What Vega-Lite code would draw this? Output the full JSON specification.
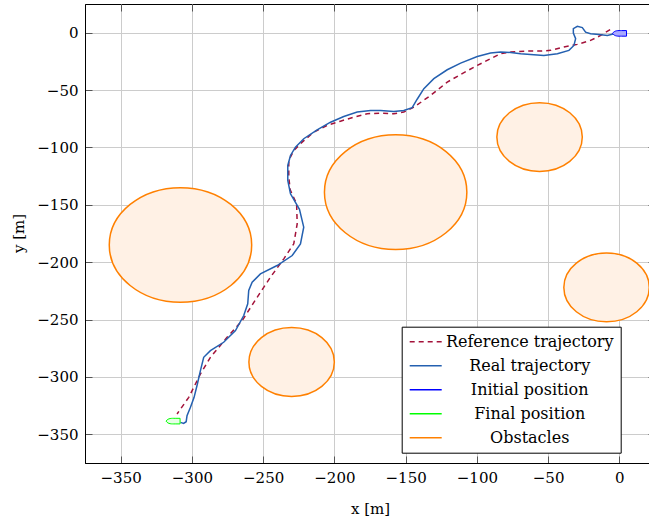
{
  "$schema": "https://vega.github.io/schema/vega-lite/v6.json",
  "width": 570,
  "height": 459,
  "autosize": {"type": "none"},
  "padding": {"left": 85, "top": 4, "right": 0, "bottom": 60},
  "background": "white",
  "config": {
    "font": "DejaVu Serif",
    "view": {"stroke": "black", "strokeWidth": 1},
    "axis": {
      "labelFont": "DejaVu Serif", "labelFontSize": 15, "labelColor": "black",
      "titleFont": "DejaVu Serif", "titleFontSize": 15, "titleFontWeight": "normal", "titleColor": "black",
      "gridColor": "#cccccc", "gridOpacity": 1, "gridWidth": 1,
      "domainColor": "black", "tickColor": "#555555", "tickSize": -7, "labelPadding": 14
    }
  },
  "datasets": {
    "ref": [
      {"series": "Reference trajectory", "i": 1, "x": -6.5, "y": 2.7},
      {"series": "Reference trajectory", "i": 2, "x": -13.1, "y": -2.4},
      {"series": "Reference trajectory", "i": 3, "x": -20.2, "y": -6.7},
      {"series": "Reference trajectory", "i": 4, "x": -29.5, "y": -10.2},
      {"series": "Reference trajectory", "i": 5, "x": -38.9, "y": -12.5},
      {"series": "Reference trajectory", "i": 6, "x": -48.2, "y": -15.4},
      {"series": "Reference trajectory", "i": 7, "x": -55.3, "y": -16},
      {"series": "Reference trajectory", "i": 8, "x": -64.6, "y": -16},
      {"series": "Reference trajectory", "i": 9, "x": -76.3, "y": -16.9},
      {"series": "Reference trajectory", "i": 10, "x": -83.4, "y": -18.3},
      {"series": "Reference trajectory", "i": 11, "x": -90.4, "y": -22.7},
      {"series": "Reference trajectory", "i": 12, "x": -99.7, "y": -28.5},
      {"series": "Reference trajectory", "i": 13, "x": -111.4, "y": -36.4},
      {"series": "Reference trajectory", "i": 14, "x": -120.8, "y": -43.1},
      {"series": "Reference trajectory", "i": 15, "x": -132.5, "y": -54.7},
      {"series": "Reference trajectory", "i": 16, "x": -144.2, "y": -64.9},
      {"series": "Reference trajectory", "i": 17, "x": -151.3, "y": -69.2},
      {"series": "Reference trajectory", "i": 18, "x": -158.3, "y": -70.6},
      {"series": "Reference trajectory", "i": 19, "x": -167.6, "y": -70.1},
      {"series": "Reference trajectory", "i": 20, "x": -177, "y": -70.6},
      {"series": "Reference trajectory", "i": 21, "x": -186.4, "y": -73.6},
      {"series": "Reference trajectory", "i": 22, "x": -195.7, "y": -77.1},
      {"series": "Reference trajectory", "i": 23, "x": -205.1, "y": -80.8},
      {"series": "Reference trajectory", "i": 24, "x": -214.5, "y": -86.7},
      {"series": "Reference trajectory", "i": 25, "x": -222.6, "y": -95.4},
      {"series": "Reference trajectory", "i": 26, "x": -228.5, "y": -102.6},
      {"series": "Reference trajectory", "i": 27, "x": -232, "y": -111.4},
      {"series": "Reference trajectory", "i": 28, "x": -232, "y": -125.9},
      {"series": "Reference trajectory", "i": 29, "x": -231, "y": -137},
      {"series": "Reference trajectory", "i": 30, "x": -226.5, "y": -149.1},
      {"series": "Reference trajectory", "i": 31, "x": -226.1, "y": -166.6},
      {"series": "Reference trajectory", "i": 32, "x": -228.5, "y": -184},
      {"series": "Reference trajectory", "i": 33, "x": -235.5, "y": -197.1},
      {"series": "Reference trajectory", "i": 34, "x": -244.9, "y": -213.1},
      {"series": "Reference trajectory", "i": 35, "x": -254.2, "y": -230.6},
      {"series": "Reference trajectory", "i": 36, "x": -264.7, "y": -250.9},
      {"series": "Reference trajectory", "i": 37, "x": -275.3, "y": -265.5},
      {"series": "Reference trajectory", "i": 38, "x": -287, "y": -282.9},
      {"series": "Reference trajectory", "i": 39, "x": -294, "y": -297.4},
      {"series": "Reference trajectory", "i": 40, "x": -302.2, "y": -317.8},
      {"series": "Reference trajectory", "i": 41, "x": -310.4, "y": -332.3}
    ],
    "real": [
      {"series": "Real trajectory", "i": 1, "x": -1, "y": 0},
      {"series": "Real trajectory", "i": 2, "x": -8.4, "y": -2.4},
      {"series": "Real trajectory", "i": 3, "x": -14.3, "y": -1.5},
      {"series": "Real trajectory", "i": 4, "x": -20.2, "y": -0.9},
      {"series": "Real trajectory", "i": 5, "x": -23.7, "y": 0.5},
      {"series": "Real trajectory", "i": 6, "x": -26, "y": 4.4},
      {"series": "Real trajectory", "i": 7, "x": -29.5, "y": 5.5},
      {"series": "Real trajectory", "i": 8, "x": -32.3, "y": 3.5},
      {"series": "Real trajectory", "i": 9, "x": -32.3, "y": -0.3},
      {"series": "Real trajectory", "i": 10, "x": -30.7, "y": -5.2},
      {"series": "Real trajectory", "i": 11, "x": -31.9, "y": -11.1},
      {"series": "Real trajectory", "i": 12, "x": -35.4, "y": -15.4},
      {"series": "Real trajectory", "i": 13, "x": -43.5, "y": -18.3},
      {"series": "Real trajectory", "i": 14, "x": -53, "y": -19.8},
      {"series": "Real trajectory", "i": 15, "x": -60, "y": -19.2},
      {"series": "Real trajectory", "i": 16, "x": -69.3, "y": -18.3},
      {"series": "Real trajectory", "i": 17, "x": -76.3, "y": -17.2},
      {"series": "Real trajectory", "i": 18, "x": -83.4, "y": -16.9},
      {"series": "Real trajectory", "i": 19, "x": -90.4, "y": -17.8},
      {"series": "Real trajectory", "i": 20, "x": -99.7, "y": -20.7},
      {"series": "Real trajectory", "i": 21, "x": -111.4, "y": -26.5},
      {"series": "Real trajectory", "i": 22, "x": -120.8, "y": -32.3},
      {"series": "Real trajectory", "i": 23, "x": -130.2, "y": -40.1},
      {"series": "Real trajectory", "i": 24, "x": -137.2, "y": -48.8},
      {"series": "Real trajectory", "i": 25, "x": -141.9, "y": -58},
      {"series": "Real trajectory", "i": 26, "x": -145.4, "y": -65.4},
      {"series": "Real trajectory", "i": 27, "x": -151.3, "y": -67.8},
      {"series": "Real trajectory", "i": 28, "x": -158.3, "y": -68.6},
      {"series": "Real trajectory", "i": 29, "x": -167.6, "y": -67.8},
      {"series": "Real trajectory", "i": 30, "x": -174.6, "y": -67.8},
      {"series": "Real trajectory", "i": 31, "x": -184, "y": -69.2},
      {"series": "Real trajectory", "i": 32, "x": -193.4, "y": -73},
      {"series": "Real trajectory", "i": 33, "x": -202.7, "y": -78},
      {"series": "Real trajectory", "i": 34, "x": -212.1, "y": -84.6},
      {"series": "Real trajectory", "i": 35, "x": -221.5, "y": -92.4},
      {"series": "Real trajectory", "i": 36, "x": -227.3, "y": -99.8},
      {"series": "Real trajectory", "i": 37, "x": -230.8, "y": -107},
      {"series": "Real trajectory", "i": 38, "x": -232.7, "y": -115.7},
      {"series": "Real trajectory", "i": 39, "x": -232.7, "y": -128.8},
      {"series": "Real trajectory", "i": 40, "x": -230.8, "y": -140.4},
      {"series": "Real trajectory", "i": 41, "x": -224.5, "y": -154},
      {"series": "Real trajectory", "i": 42, "x": -221.5, "y": -169.5},
      {"series": "Real trajectory", "i": 43, "x": -223.8, "y": -184},
      {"series": "Real trajectory", "i": 44, "x": -229.6, "y": -194.2},
      {"series": "Real trajectory", "i": 45, "x": -240.2, "y": -202.9},
      {"series": "Real trajectory", "i": 46, "x": -251.9, "y": -210.2},
      {"series": "Real trajectory", "i": 47, "x": -257.7, "y": -217.5},
      {"series": "Real trajectory", "i": 48, "x": -260.1, "y": -224.7},
      {"series": "Real trajectory", "i": 49, "x": -260.8, "y": -236.3},
      {"series": "Real trajectory", "i": 50, "x": -263.6, "y": -246.5},
      {"series": "Real trajectory", "i": 51, "x": -269.4, "y": -259.6},
      {"series": "Real trajectory", "i": 52, "x": -277.7, "y": -269.8},
      {"series": "Real trajectory", "i": 53, "x": -287, "y": -277.1},
      {"series": "Real trajectory", "i": 54, "x": -291.7, "y": -282.9},
      {"series": "Real trajectory", "i": 55, "x": -294, "y": -294.5},
      {"series": "Real trajectory", "i": 56, "x": -296.3, "y": -307},
      {"series": "Real trajectory", "i": 57, "x": -298.5, "y": -318},
      {"series": "Real trajectory", "i": 58, "x": -301, "y": -326.5},
      {"series": "Real trajectory", "i": 59, "x": -303.4, "y": -333.7},
      {"series": "Real trajectory", "i": 60, "x": -304, "y": -339},
      {"series": "Real trajectory", "i": 61, "x": -305.8, "y": -340.5},
      {"series": "Real trajectory", "i": 62, "x": -308, "y": -339.6}
    ],
    "obst": [
      {"x": -308, "y": -185, "r": 50},
      {"x": -157, "y": -139, "r": 50},
      {"x": -56, "y": -91, "r": 30},
      {"x": -9, "y": -222, "r": 30},
      {"x": -230, "y": -287, "r": 30}
    ],
    "pose": [
      {"name": "Initial position", "x": 0.1, "y": -0.6},
      {"name": "Final position", "x": -313.2, "y": -338.5}
    ]
  },
  "resolve": {"axis": {"x": "independent", "y": "independent"}},
  "layer": [
    {
      "data": {"name": "obst"},
      "mark": {
        "type": "point", "filled": true, "opacity": 1,
        "fill": "#fff1e5", "stroke": "#ff8000", "strokeWidth": 1.5,
        "shape": "M -1.2418 0 C -1.2418 -0.5523 -0.6859 -1 0 -1 C 0.6859 -1 1.2418 -0.5523 1.2418 0 C 1.2418 0.5523 0.6859 1 0 1 C -0.6859 1 -1.2418 0.5523 -1.2418 0 Z"
      },
      "encoding": {
        "x": {"field": "x", "type": "quantitative", "scale": {"domain": [-375, 25], "nice": false, "zero": false},
              "axis": {"orient": "top", "values": [-350, -300, -250, -200, -150, -100, -50, 0], "labels": false, "grid": false, "domain": false, "title": null}},
        "y": {"field": "y", "type": "quantitative", "scale": {"domain": [-375, 25], "nice": false, "zero": false},
              "axis": {"orient": "right", "values": [-350, -300, -250, -200, -150, -100, -50, 0], "labels": false, "grid": false, "domain": false, "title": null}},
        "size": {"field": "r", "type": "quantitative", "scale": {"type": "pow", "exponent": 2, "domain": [0, 50], "range": [0, 13150]}, "legend": null}
      }
    },
    {
      "data": {"name": "ref"},
      "mark": {"type": "line", "strokeWidth": 1.5, "strokeDash": [5, 4]},
      "encoding": {
        "x": {"field": "x", "type": "quantitative", "title": "x [m]",
              "axis": {"orient": "bottom", "values": [-350, -300, -250, -200, -150, -100, -50, 0], "grid": true, "titleX": 285, "titleY": 45, "titleBaseline": "middle"}},
        "y": {"field": "y", "type": "quantitative", "title": "y [m]",
              "axis": {"orient": "left", "values": [-350, -300, -250, -200, -150, -100, -50, 0], "grid": true, "titleX": -67, "titleY": 229, "titleAngle": -90, "titleBaseline": "middle"}},
        "order": {"field": "i", "type": "quantitative"},
        "color": {
          "field": "series", "type": "nominal",
          "scale": {
            "domain": ["Reference trajectory", "Real trajectory", "Initial position", "Final position", "Obstacles"],
            "range": ["#a3123a", "#2460b0", "#0000ff", "#00ff00", "#ff8000"]
          },
          "legend": {
            "title": null, "orient": "none", "legendX": 316.7, "legendY": 322.7,
            "fillColor": "white", "strokeColor": "black", "padding": 7,
            "symbolType": "M -5 0 L 5 0", "symbolSize": 41, "symbolStrokeWidth": 1.5, "symbolOffset": 9,
            "labelAlign": "center", "labelOffset": 96, "labelFont": "DejaVu Serif", "labelFontSize": 16,
            "labelColor": "black", "labelLimit": 400, "rowPadding": 8,
            "encode": {"symbols": {"update": {"strokeDash": {"signal": "datum.value === 'Reference trajectory' ? [5, 4] : [1, 0]"}}}}
          }
        }
      }
    },
    {
      "data": {"name": "real"},
      "mark": {"type": "line", "strokeWidth": 1.5},
      "encoding": {
        "x": {"field": "x", "type": "quantitative", "axis": null},
        "y": {"field": "y", "type": "quantitative", "axis": null},
        "order": {"field": "i", "type": "quantitative"},
        "color": {"field": "series", "type": "nominal"}
      }
    },
    {
      "data": {"name": "pose"},
      "mark": {
        "type": "point", "filled": true, "opacity": 1, "size": 196, "strokeWidth": 1,
        "shape": "M -1 0 C -0.7 -0.45 -0.2 -0.4 0.3 -0.4 L 1 -0.4 L 1 0.4 L 0.3 0.4 C -0.2 0.4 -0.7 0.45 -1 0 Z"
      },
      "encoding": {
        "x": {"field": "x", "type": "quantitative", "axis": null},
        "y": {"field": "y", "type": "quantitative", "axis": null},
        "fill": {"field": "name", "type": "nominal", "scale": {"domain": ["Initial position", "Final position"], "range": ["#a8a8ff", "#e6ffe6"]}, "legend": null},
        "stroke": {"field": "name", "type": "nominal", "scale": {"domain": ["Initial position", "Final position"], "range": ["#0000ff", "#00ff00"]}, "legend": null}
      }
    }
  ]
}
